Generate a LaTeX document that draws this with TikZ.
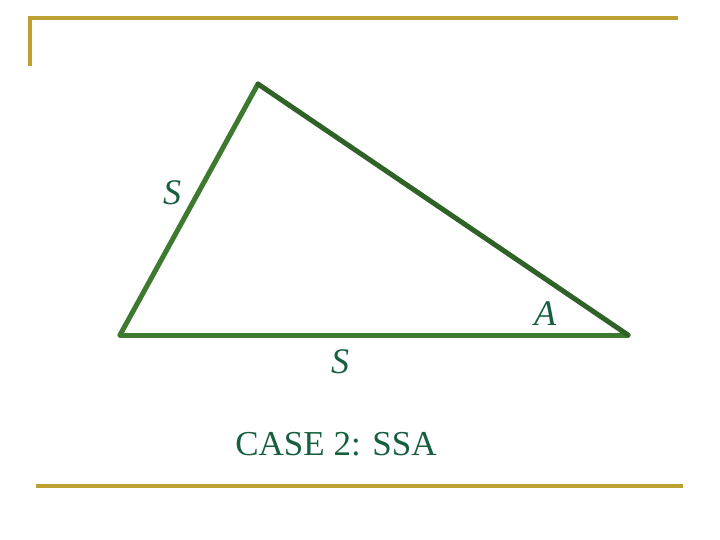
\documentclass[tikz,border=0pt]{standalone}
\usepackage{fontspec}
\setmainfont{Liberation Serif}
\definecolor{gold}{HTML}{BFA032}
\definecolor{tri}{HTML}{3D7A2F}
\definecolor{tridark}{HTML}{2F6226}
\definecolor{txt}{HTML}{17603E}
\begin{document}
\begin{tikzpicture}[x=1pt,y=-1pt,
  rule/.style={draw=gold,line width=3.5pt},
  side/.style={draw=tri,line width=5pt,line cap=round,line join=round},
  lbl/.style={text=txt,font=\fontsize{36}{38}\selectfont\itshape,inner sep=0pt},
  captiontext/.style={text=txt,font=\fontsize{35}{38}\selectfont,inner sep=0pt}]
\useasboundingbox (0,0) rectangle (720,540);
\coordinate (tl) at (30,66);
\coordinate (tc) at (30,18);
\coordinate (tr) at (678,18);
\coordinate (bl) at (36,486);
\coordinate (br) at (683,486);
\draw[rule] (tl) -- (tc) -- (tr);
\draw[rule] (bl) -- (br);
\coordinate (P) at (258,84);
\coordinate (L) at (120,335);
\coordinate (R) at (628,335);
\draw[side] (L) -- (R);
\draw[side] (L) -- (P);
\draw[side,draw=tridark] (P) -- (R);
\node[lbl] (s1) at (172,193) {S};
\node[lbl] (a) at (545,314) {A};
\node[lbl] (s2) at (340,362) {S};
\node[captiontext] (c) at (336,444) {CASE 2: SSA};
\end{tikzpicture}
\end{document}
